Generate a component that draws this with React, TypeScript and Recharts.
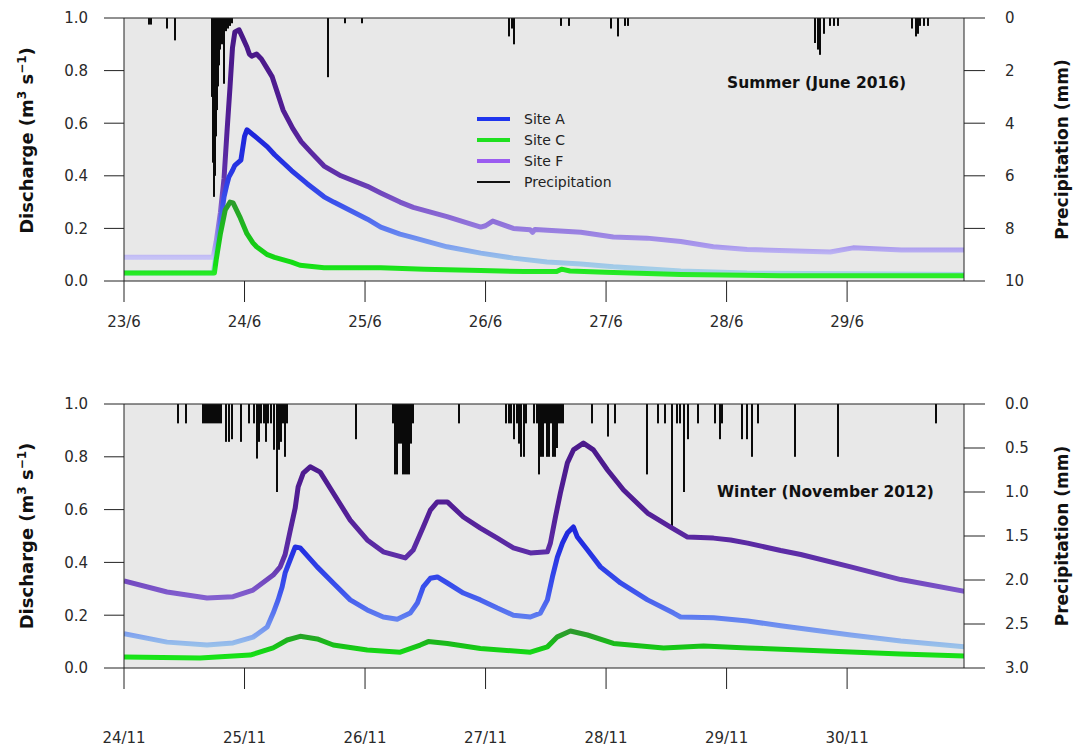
import React from "react";
import {
  ComposedChart,
  Line,
  Bar,
  XAxis,
  YAxis,
  CartesianGrid,
  ReferenceLine,
  Legend,
} from "recharts";

type Pt = [number, number];
type Stop = [number, string];

// time in days since the first midnight on the axis, discharge in m3 s-1
const summerSiteA: Pt[] = [
  [0, 0.03], [0.74, 0.03], [0.765, 0.1], [0.8, 0.22], [0.83, 0.32], [0.85, 0.36], [0.87, 0.395],
  [0.9, 0.42], [0.92, 0.44], [0.97, 0.46], [1.0, 0.55], [1.02, 0.575], [1.1, 0.545], [1.19, 0.51],
  [1.25, 0.48], [1.39, 0.42], [1.52, 0.37], [1.66, 0.32], [1.74, 0.3], [2.02, 0.235], [2.13, 0.205],
  [2.29, 0.178], [2.4, 0.165], [2.68, 0.13], [2.96, 0.106], [3.23, 0.087], [3.51, 0.072], [3.79, 0.065],
  [4.06, 0.054], [4.62, 0.038], [5.17, 0.03], [6.03, 0.028], [6.97, 0.025],
];
const summerSiteC: Pt[] = [
  [0, 0.03], [0.75, 0.03], [0.765, 0.08], [0.8, 0.18], [0.84, 0.27], [0.88, 0.3], [0.905, 0.297],
  [0.96, 0.245], [1.02, 0.18], [1.07, 0.145], [1.1, 0.13], [1.19, 0.1], [1.25, 0.09], [1.39, 0.072],
  [1.46, 0.06], [1.66, 0.05], [2.13, 0.05], [2.49, 0.045], [2.96, 0.04], [3.32, 0.036], [3.59, 0.036],
  [3.63, 0.045], [3.7, 0.038], [3.99, 0.033], [4.62, 0.025], [5.45, 0.02], [6.97, 0.02],
];
const summerSiteF: Pt[] = [
  [0, 0.09], [0.74, 0.09], [0.765, 0.15], [0.8, 0.26], [0.83, 0.39], [0.855, 0.57], [0.88, 0.74],
  [0.9, 0.886], [0.92, 0.947], [0.955, 0.955], [0.98, 0.93], [1.02, 0.89], [1.04, 0.863], [1.06, 0.855],
  [1.1, 0.863], [1.14, 0.844], [1.18, 0.814], [1.23, 0.776], [1.27, 0.72], [1.32, 0.65], [1.4, 0.58],
  [1.47, 0.53], [1.55, 0.49], [1.66, 0.437], [1.8, 0.4], [2.02, 0.36], [2.13, 0.335], [2.29, 0.3],
  [2.4, 0.28], [2.68, 0.245], [2.96, 0.205], [3.0, 0.21], [3.06, 0.228], [3.23, 0.2], [3.37, 0.195],
  [3.39, 0.185], [3.41, 0.196], [3.79, 0.185], [4.06, 0.167], [4.34, 0.163], [4.62, 0.15], [4.89, 0.13],
  [5.17, 0.12], [5.86, 0.11], [6.05, 0.126], [6.45, 0.118], [6.97, 0.118],
];
// precipitation (mm)
const summerRain: Pt[] = [
  [0.208, 0.25], [0.224, 0.25], [0.357, 0.4], [0.424, 0.85], [0.731, 3.0], [0.739, 5.5], [0.748, 6.8],
  [0.756, 6.0], [0.764, 4.5], [0.772, 3.5], [0.781, 2.6], [0.789, 1.8], [0.797, 1.2], [0.806, 0.8],
  [0.814, 1.0], [0.831, 2.5], [0.847, 0.5], [0.864, 0.4], [0.88, 0.3], [0.897, 0.2], [1.694, 2.25],
  [1.836, 0.2], [1.977, 0.2], [3.198, 0.7], [3.223, 0.4], [3.239, 1.0], [3.63, 0.3], [3.696, 0.3],
  [4.045, 0.4], [4.103, 0.7], [4.153, 0.3], [4.186, 0.3], [5.731, 0.95], [5.756, 1.2], [5.772, 1.4],
  [5.806, 0.6], [5.855, 0.3], [5.889, 0.3], [5.922, 0.3], [6.537, 0.4], [6.57, 0.7], [6.586, 0.6],
  [6.603, 0.3], [6.636, 0.3], [6.669, 0.3],
];

const winterSiteA: Pt[] = [
  [0, 0.13], [0.357, 0.098], [0.689, 0.087], [0.905, 0.095], [1.071, 0.117], [1.188, 0.155],
  [1.238, 0.208], [1.279, 0.258], [1.312, 0.307], [1.337, 0.36], [1.379, 0.41], [1.42, 0.458],
  [1.462, 0.455], [1.603, 0.383], [1.736, 0.322], [1.877, 0.258], [2.018, 0.22], [2.151, 0.193],
  [2.267, 0.185], [2.375, 0.208], [2.434, 0.246], [2.483, 0.307], [2.542, 0.34], [2.6, 0.345],
  [2.683, 0.322], [2.816, 0.284], [2.957, 0.258], [3.098, 0.227], [3.231, 0.2], [3.372, 0.193],
  [3.455, 0.208], [3.513, 0.258], [3.555, 0.345], [3.596, 0.42], [3.638, 0.473], [3.679, 0.511],
  [3.729, 0.534], [3.762, 0.496], [3.846, 0.447], [3.953, 0.383], [4.12, 0.322], [4.344, 0.258],
  [4.56, 0.208], [4.618, 0.193], [4.892, 0.19], [5.174, 0.178], [5.449, 0.16], [6.03, 0.125],
  [6.445, 0.102], [6.977, 0.08],
];
const winterSiteC: Pt[] = [
  [0, 0.042], [0.631, 0.038], [1.047, 0.049], [1.238, 0.076], [1.354, 0.106], [1.462, 0.12],
  [1.603, 0.11], [1.736, 0.087], [2.018, 0.068], [2.292, 0.06], [2.458, 0.087], [2.525, 0.1],
  [2.683, 0.093], [2.957, 0.074], [3.372, 0.06], [3.513, 0.08], [3.596, 0.118], [3.704, 0.14],
  [3.846, 0.125], [4.061, 0.093], [4.477, 0.076], [4.809, 0.083], [5.174, 0.076], [5.615, 0.068],
  [6.445, 0.053], [6.977, 0.045],
];
const winterSiteF: Pt[] = [
  [0, 0.33], [0.357, 0.288], [0.689, 0.265], [0.905, 0.27], [1.071, 0.295], [1.238, 0.352],
  [1.296, 0.383], [1.337, 0.43], [1.379, 0.52], [1.42, 0.605], [1.445, 0.686], [1.487, 0.738],
  [1.545, 0.762], [1.628, 0.742], [1.736, 0.663], [1.877, 0.56], [2.018, 0.485], [2.151, 0.44],
  [2.334, 0.417], [2.4, 0.447], [2.483, 0.534], [2.542, 0.598], [2.6, 0.629], [2.683, 0.629],
  [2.816, 0.572], [2.957, 0.53], [3.098, 0.492], [3.231, 0.455], [3.372, 0.436], [3.513, 0.44],
  [3.538, 0.473], [3.58, 0.572], [3.621, 0.663], [3.679, 0.777], [3.729, 0.826], [3.812, 0.852],
  [3.895, 0.826], [4.012, 0.75], [4.145, 0.674], [4.344, 0.587], [4.535, 0.534], [4.676, 0.496],
  [4.892, 0.492], [5.033, 0.485], [5.174, 0.473], [5.449, 0.445], [5.615, 0.43], [6.03, 0.383],
  [6.445, 0.335], [6.977, 0.29],
];
const winterRain: Pt[] = [
  [0.449, 0.22], [0.515, 0.22], [0.656, 0.22], [0.673, 0.22], [0.689, 0.22], [0.706, 0.22],
  [0.723, 0.22], [0.739, 0.22], [0.756, 0.22], [0.772, 0.22], [0.789, 0.22], [0.806, 0.22],
  [0.847, 0.43], [0.872, 0.43], [0.897, 0.4], [0.972, 0.43], [1.038, 0.22], [1.08, 0.22],
  [1.105, 0.62], [1.121, 0.43], [1.138, 0.22], [1.163, 0.22], [1.179, 0.43], [1.196, 0.22],
  [1.221, 0.22], [1.246, 0.52], [1.271, 1.0], [1.287, 0.52], [1.304, 0.43], [1.321, 0.22],
  [1.337, 0.6], [1.354, 0.22], [1.927, 0.4], [2.234, 0.22], [2.251, 0.8], [2.268, 0.8],
  [2.284, 0.45], [2.301, 0.45], [2.318, 0.8], [2.334, 0.8], [2.351, 0.8], [2.367, 0.8],
  [2.384, 0.45], [2.4, 0.22], [2.782, 0.22], [3.173, 0.22], [3.198, 0.22], [3.214, 0.22],
  [3.239, 0.4], [3.264, 0.22], [3.281, 0.45], [3.297, 0.6], [3.322, 0.6], [3.339, 0.22],
  [3.405, 0.22], [3.43, 0.22], [3.447, 0.8], [3.463, 0.6], [3.48, 0.6], [3.497, 0.22],
  [3.513, 0.6], [3.53, 0.6], [3.547, 0.22], [3.563, 0.6], [3.58, 0.6], [3.596, 0.5],
  [3.613, 0.22], [3.629, 0.22], [3.646, 0.22], [3.887, 0.22], [4.012, 0.37], [4.07, 0.22],
  [4.336, 0.8], [4.427, 0.22], [4.485, 0.22], [4.551, 1.4], [4.585, 0.22], [4.61, 0.22],
  [4.643, 1.0], [4.676, 0.4], [4.759, 0.22], [4.9, 0.22], [4.942, 0.4], [4.958, 0.22],
  [5.125, 0.4], [5.166, 0.4], [5.208, 0.6], [5.257, 0.22], [5.565, 0.6], [5.922, 0.6],
  [6.736, 0.22],
];

const summerDays = ["23/6", "24/6", "25/6", "26/6", "27/6", "28/6", "29/6"];
const winterDays = ["24/11", "25/11", "26/11", "27/11", "28/11", "29/11", "30/11"];
const dayTicks = [0, 1, 2, 3, 4, 5, 6];
const dischargeTicks = [0, 0.2, 0.4, 0.6, 0.8, 1.0];
const summerRainTicks = [0, 2, 4, 6, 8, 10];
const winterRainTicks = [0, 0.5, 1, 1.5, 2, 2.5, 3];

const legendItems = [
  { name: "Site A", color: "#1f35ee", h: 4 },
  { name: "Site C", color: "#1fe01f", h: 4 },
  { name: "Site F", color: "#9b5cf0", h: 4 },
  { name: "Precipitation", color: "#111", h: 2 },
];

// colour ramps by discharge value
const rampA: Stop[] = [
  [0.03, "#a9d3e6"], [0.09, "#98c0ea"], [0.13, "#80a2ef"], [0.2, "#5b78f0"],
  [0.3, "#3a50ec"], [0.45, "#2430e2"], [0.6, "#1c22d8"],
];
const rampF: Stop[] = [
  [0.09, "#c6c2f6"], [0.12, "#ad9ef0"], [0.2, "#957ade"], [0.3, "#7b54c8"],
  [0.4, "#5f30aa"], [0.6, "#521e96"], [0.95, "#481887"],
];
const rampCSummer: Stop[] = [[0.02, "#2aec2a"], [0.06, "#14e014"], [0.15, "#16c816"], [0.3, "#2c9c2c"]];
const rampCWinter: Stop[] = [[0.04, "#18e618"], [0.07, "#14d014"], [0.1, "#1cb41c"], [0.14, "#2e982e"]];

const FONT = '"DejaVu Sans", Verdana, sans-serif';

function hexToRgb(h: string) {
  const n = parseInt(h.slice(1), 16);
  return [(n >> 16) & 255, (n >> 8) & 255, n & 255];
}

function rampColor(ramp: Stop[], v: number) {
  if (v <= ramp[0][0]) return ramp[0][1];
  for (let i = 1; i < ramp.length; i++) {
    if (v <= ramp[i][0]) {
      const f = (v - ramp[i - 1][0]) / (ramp[i][0] - ramp[i - 1][0]);
      const a = hexToRgb(ramp[i - 1][1]);
      const b = hexToRgb(ramp[i][1]);
      const c = a.map((x, k) => Math.round(x + (b[k] - x) * f));
      return `rgb(${c[0]},${c[1]},${c[2]})`;
    }
  }
  return ramp[ramp.length - 1][1];
}

function gradient(id: string, points: Pt[], ramp: Stop[]) {
  const vals = points.map((p) => p[1]);
  const hi = Math.max(...vals);
  const lo = Math.min(...vals);
  const offs = Array.from({ length: 21 }, (_, i) => i / 20);
  return (
    <linearGradient key={id} id={id} x1="0" y1="0" x2="0" y2="1">
      {offs.map((o) => (
        <stop key={o} offset={o} stopColor={rampColor(ramp, hi - o * (hi - lo))} />
      ))}
    </linearGradient>
  );
}

const rows = (pts: Pt[]) => pts.map(([t, v]) => ({ t, v }));

// thin black stick hanging from the top of the frame
function RainStick(props: any) {
  const { x, y, width, height } = props;
  if (x == null || y == null) return null;
  const top = Math.min(y, y + height);
  const h = Math.abs(height);
  return <rect x={Math.round(x + width / 2) - 1} y={top} width={2} height={h} fill="#0a0a0a" />;
}

function DischargeLabel(props: any) {
  const { viewBox, shift } = props;
  const x = viewBox.x - 31;
  const y = viewBox.y + viewBox.height / 2 + shift;
  return (
    <text
      x={x}
      y={y}
      transform={`rotate(-90, ${x}, ${y})`}
      textAnchor="middle"
      fontFamily={FONT}
      fontWeight="bold"
      fontSize={18}
      fill="#111"
    >
      Discharge (m
      <tspan dy={-7} fontSize={12}>3</tspan>
      <tspan dy={7}> s</tspan>
      <tspan dy={-7} fontSize={12}>−1</tspan>
      <tspan dy={7}>)</tspan>
    </text>
  );
}

function RainLabel(props: any) {
  const { viewBox } = props;
  const x = viewBox.x + 104;
  const y = viewBox.y + viewBox.height / 2;
  return (
    <text
      x={x}
      y={y}
      transform={`rotate(-90, ${x}, ${y})`}
      textAnchor="middle"
      fontFamily={FONT}
      fontWeight="bold"
      fontSize={17}
      fill="#111"
    >
      Precipitation (mm)
    </text>
  );
}

function LegendBox() {
  return (
    <div style={{ fontFamily: FONT, fontSize: 14, color: "#222", textAlign: "left" }}>
      {legendItems.map((it) => (
        <div key={it.name} style={{ display: "flex", alignItems: "center", height: 21 }}>
          <div style={{ width: 33, height: it.h, background: it.color }} />
          <span style={{ marginLeft: 14 }}>{it.name}</span>
        </div>
      ))}
    </div>
  );
}

type PanelProps = {
  id: string;
  days: string[];
  siteA: Pt[];
  siteC: Pt[];
  siteF: Pt[];
  rain: Pt[];
  rainTicks: number[];
  rainFmt: (v: number) => string;
  rampC: Stop[];
  marginTop: number;
  marginBottom: number;
  labelGap: number;
  labelShift: number;
  title: string;
  titlePos: { left: number; top: number };
  legend?: boolean;
};

function Panel(p: PanelProps) {
  const tickStyle = { fill: "#2a2a2a", fontSize: 15, fontFamily: FONT };
  const rainMax = p.rainTicks[p.rainTicks.length - 1];
  return (
    <div style={{ position: "relative", width: 1074, height: 373 }}>
      <ComposedChart
        width={1074}
        height={373}
        data={p.rain.map(([t, mm]) => ({ t, p: mm }))}
        margin={{ top: p.marginTop, right: 50, bottom: p.marginBottom, left: 64 }}
      >
        <defs>
          {gradient(`${p.id}-A`, p.siteA, rampA)}
          {gradient(`${p.id}-C`, p.siteC, p.rampC)}
          {gradient(`${p.id}-F`, p.siteF, rampF)}
        </defs>
        <CartesianGrid yAxisId="q" fill="#e8e8e8" stroke="none" horizontal={false} vertical={false} />
        <XAxis
          dataKey="t"
          type="number"
          domain={[0, 6.97]}
          allowDataOverflow
          ticks={dayTicks}
          interval={0}
          tickFormatter={(v) => p.days[v]}
          tickSize={21}
          tickMargin={p.labelGap}
          stroke="#222"
          tick={tickStyle}
        />
        <YAxis
          yAxisId="q"
          domain={[0, 1]}
          ticks={dischargeTicks}
          interval={0}
          tickFormatter={(v) => v.toFixed(1)}
          tickSize={20}
          tickMargin={16}
          width={60}
          stroke="#222"
          tick={tickStyle}
          label={<DischargeLabel shift={p.labelShift} />}
        />
        <YAxis
          yAxisId="p"
          orientation="right"
          reversed
          domain={[0, rainMax]}
          ticks={p.rainTicks}
          interval={0}
          tickFormatter={p.rainFmt}
          tickSize={21}
          tickMargin={20}
          width={60}
          stroke="#222"
          tick={tickStyle}
          label={<RainLabel />}
        />
        <Bar yAxisId="p" dataKey="p" fill="#0a0a0a" shape={<RainStick />} isAnimationActive={false} />
        <Line
          yAxisId="q"
          data={rows(p.siteF)}
          dataKey="v"
          type="linear"
          stroke={`url(#${p.id}-F)`}
          strokeWidth={5}
          strokeLinejoin="round"
          dot={false}
          isAnimationActive={false}
        />
        <Line
          yAxisId="q"
          data={rows(p.siteA)}
          dataKey="v"
          type="linear"
          stroke={`url(#${p.id}-A)`}
          strokeWidth={5}
          strokeLinejoin="round"
          dot={false}
          isAnimationActive={false}
        />
        <Line
          yAxisId="q"
          data={rows(p.siteC)}
          dataKey="v"
          type="linear"
          stroke={`url(#${p.id}-C)`}
          strokeWidth={5}
          strokeLinejoin="round"
          dot={false}
          isAnimationActive={false}
        />
        <ReferenceLine yAxisId="q" y={1} stroke="#222" strokeWidth={1.2} />
        {p.legend && (
          <Legend
            layout="vertical"
            align="center"
            verticalAlign="middle"
            content={() => <LegendBox />}
            wrapperStyle={{ position: "absolute", left: 477, top: 108, width: 200, bottom: "auto", right: "auto" }}
          />
        )}
      </ComposedChart>
      <div
        style={{
          position: "absolute",
          left: p.titlePos.left,
          top: p.titlePos.top,
          fontFamily: FONT,
          fontWeight: "bold",
          fontSize: 15.5,
          lineHeight: "18px",
          color: "#111",
          whiteSpace: "nowrap",
        }}
      >
        {p.title}
      </div>
    </div>
  );
}

export default function App() {
  return (
    <div style={{ position: "absolute", left: 0, top: 0, width: 1074, height: 746, background: "#fff" }}>
      <Panel
        id="summer"
        days={summerDays}
        siteA={summerSiteA}
        siteC={summerSiteC}
        siteF={summerSiteF}
        rain={summerRain}
        rainTicks={summerRainTicks}
        rainFmt={(v) => String(v)}
        rampC={rampCSummer}
        marginTop={18}
        marginBottom={62}
        labelGap={14}
        labelShift={-9}
        title="Summer (June 2016)"
        titlePos={{ left: 727, top: 74 }}
        legend
      />
      <Panel
        id="winter"
        days={winterDays}
        siteA={winterSiteA}
        siteC={winterSiteC}
        siteF={winterSiteF}
        rain={winterRain}
        rainTicks={winterRainTicks}
        rainFmt={(v) => v.toFixed(1)}
        rampC={rampCWinter}
        marginTop={31}
        marginBottom={48}
        labelGap={43}
        labelShift={0}
        title="Winter (November 2012)"
        titlePos={{ left: 717, top: 110 }}
      />
    </div>
  );
}
